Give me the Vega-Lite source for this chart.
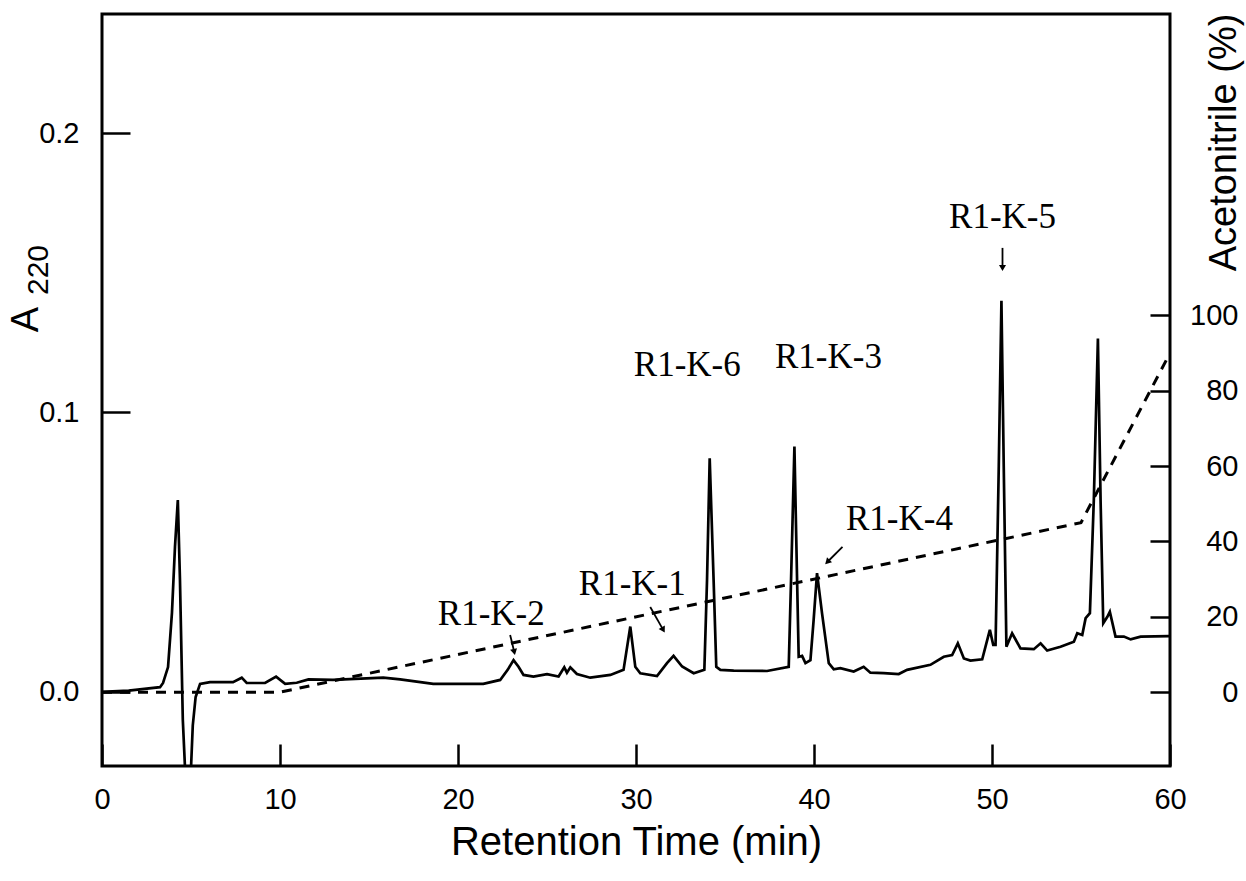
{
  "$schema": "https://vega.github.io/schema/vega-lite/v6.json",
  "width": 1068,
  "height": 752,
  "autosize": "none",
  "padding": {"left": 102, "top": 14, "right": 76, "bottom": 115},
  "background": "white",
  "config": {
    "view": {"stroke": "black", "strokeWidth": 3},
    "axis": {
      "domain": false,
      "grid": false,
      "labelFont": "Liberation Sans",
      "titleFont": "Liberation Sans",
      "labelColor": "black",
      "titleColor": "black",
      "tickColor": "black",
      "tickWidth": 2.5,
      "labelFontSize": 29,
      "titleFontSize": 38,
      "titleFontWeight": "normal"
    }
  },
  "datasets": {
    "trace": [
      {"t": 0, "A": 0}, {"t": 1.5, "A": 0.0005}, {"t": 3.26, "A": 0.0017}, {"t": 3.43, "A": 0.0032},
      {"t": 3.71, "A": 0.0089}, {"t": 3.93, "A": 0.0283}, {"t": 4.1, "A": 0.0519}, {"t": 4.26, "A": 0.0687},
      {"t": 4.38, "A": 0.0401}, {"t": 4.54, "A": -0.01}, {"t": 4.72, "A": -0.035}, {"t": 4.95, "A": -0.035},
      {"t": 5.1, "A": -0.012}, {"t": 5.26, "A": -0.0018}, {"t": 5.51, "A": 0.0029}, {"t": 6.07, "A": 0.0035},
      {"t": 7.36, "A": 0.0035}, {"t": 7.85, "A": 0.0051}, {"t": 8.13, "A": 0.0032}, {"t": 9.16, "A": 0.0032},
      {"t": 9.78, "A": 0.0055}, {"t": 10.29, "A": 0.0029}, {"t": 10.94, "A": 0.0033}, {"t": 11.6, "A": 0.0045},
      {"t": 12.98, "A": 0.0043}, {"t": 15.8, "A": 0.0051}, {"t": 16.75, "A": 0.0045}, {"t": 18.61, "A": 0.0029},
      {"t": 21.42, "A": 0.0029}, {"t": 22.37, "A": 0.0043}, {"t": 22.8, "A": 0.008}, {"t": 23.12, "A": 0.0114},
      {"t": 23.4, "A": 0.009}, {"t": 23.68, "A": 0.0061}, {"t": 24.24, "A": 0.0055}, {"t": 25.0, "A": 0.0064},
      {"t": 25.65, "A": 0.0055}, {"t": 25.97, "A": 0.0088}, {"t": 26.12, "A": 0.0069}, {"t": 26.31, "A": 0.0088},
      {"t": 26.68, "A": 0.0064}, {"t": 27.43, "A": 0.0051}, {"t": 28.56, "A": 0.0061}, {"t": 29.3, "A": 0.0079},
      {"t": 29.68, "A": 0.0234}, {"t": 29.96, "A": 0.009}, {"t": 30.24, "A": 0.0067}, {"t": 31.18, "A": 0.0057},
      {"t": 31.74, "A": 0.0103}, {"t": 32.11, "A": 0.0129}, {"t": 32.59, "A": 0.0091}, {"t": 33.24, "A": 0.0067},
      {"t": 33.84, "A": 0.0079}, {"t": 33.99, "A": 0.04}, {"t": 34.14, "A": 0.0836}, {"t": 34.36, "A": 0.04},
      {"t": 34.51, "A": 0.009}, {"t": 34.74, "A": 0.0079}, {"t": 35.49, "A": 0.0076}, {"t": 37.36, "A": 0.0075},
      {"t": 38.58, "A": 0.009}, {"t": 38.71, "A": 0.04}, {"t": 38.9, "A": 0.0878}, {"t": 39.05, "A": 0.04},
      {"t": 39.14, "A": 0.0126}, {"t": 39.33, "A": 0.0129}, {"t": 39.52, "A": 0.0103}, {"t": 39.8, "A": 0.0114},
      {"t": 39.98, "A": 0.0258}, {"t": 40.17, "A": 0.0425}, {"t": 40.45, "A": 0.0282}, {"t": 40.83, "A": 0.0103},
      {"t": 41.11, "A": 0.0081}, {"t": 41.48, "A": 0.0085}, {"t": 42.23, "A": 0.0073}, {"t": 42.79, "A": 0.009},
      {"t": 43.17, "A": 0.0069}, {"t": 43.92, "A": 0.0067}, {"t": 44.76, "A": 0.0064}, {"t": 45.23, "A": 0.0079},
      {"t": 46.54, "A": 0.0097}, {"t": 47.29, "A": 0.0126}, {"t": 47.76, "A": 0.0132}, {"t": 48.08, "A": 0.0174},
      {"t": 48.42, "A": 0.012}, {"t": 48.79, "A": 0.0112}, {"t": 49.45, "A": 0.0117}, {"t": 49.88, "A": 0.0222},
      {"t": 50.07, "A": 0.0168}, {"t": 50.2, "A": 0.0168}, {"t": 50.38, "A": 0.0806}, {"t": 50.53, "A": 0.14},
      {"t": 50.66, "A": 0.0806}, {"t": 50.81, "A": 0.0162}, {"t": 51.13, "A": 0.021}, {"t": 51.6, "A": 0.0156},
      {"t": 52.35, "A": 0.0153}, {"t": 52.73, "A": 0.0174}, {"t": 53.1, "A": 0.0148}, {"t": 53.85, "A": 0.0162},
      {"t": 54.6, "A": 0.018}, {"t": 54.79, "A": 0.021}, {"t": 55.07, "A": 0.0204}, {"t": 55.26, "A": 0.0264},
      {"t": 55.5, "A": 0.0282}, {"t": 55.72, "A": 0.0687}, {"t": 55.95, "A": 0.1265}, {"t": 56.1, "A": 0.0687},
      {"t": 56.25, "A": 0.0246}, {"t": 56.48, "A": 0.0269}, {"t": 56.62, "A": 0.0287}, {"t": 56.94, "A": 0.0198},
      {"t": 57.41, "A": 0.0198}, {"t": 57.79, "A": 0.0188}, {"t": 58.35, "A": 0.0198}, {"t": 59.94, "A": 0.02},
      {"t": 60, "A": 0.02}
    ],
    "gradient": [
      {"t": 0, "pct": 0}, {"t": 10, "pct": 0}, {"t": 55, "pct": 45}, {"t": 60, "pct": 90}
    ],
    "labels": [
      {"label": "R1-K-5", "t": 50.59, "A": 0.166},
      {"label": "R1-K-6", "t": 32.88, "A": 0.1131},
      {"label": "R1-K-3", "t": 40.81, "A": 0.1159},
      {"label": "R1-K-4", "t": 44.8, "A": 0.058},
      {"label": "R1-K-1", "t": 29.79, "A": 0.0347},
      {"label": "R1-K-2", "t": 21.87, "A": 0.024}
    ],
    "arrows": [
      {"label": "R1-K-5", "t1": 50.59, "a1": 0.1589, "t2": 50.59, "a2": 0.1517},
      {"label": "R1-K-2", "t1": 22.93, "a1": 0.0204, "t2": 23.16, "a2": 0.0143},
      {"label": "R1-K-1", "t1": 30.8, "a1": 0.0304, "t2": 31.53, "a2": 0.0222},
      {"label": "R1-K-4", "t1": 41.6, "a1": 0.0519, "t2": 40.75, "a2": 0.0465}
    ]
  },
  "layer": [
    {
      "layer": [
        {
          "data": {"name": "trace"},
          "mark": {"type": "line", "color": "black", "strokeWidth": 2.7, "clip": true},
          "encoding": {
            "x": {
              "field": "t", "type": "quantitative",
              "scale": {"domain": [0, 60], "nice": false, "zero": false},
              "axis": {
                "values": [0, 10, 20, 30, 40, 50, 60],
                "tickSize": -22,
                "labelPadding": 41,
                "labelFlush": false,
                "title": "Retention Time (min)",
                "titleFontSize": 40,
                "titleY": 56,
                "titleBaseline": "top"
              }
            },
            "y": {
              "field": "A", "type": "quantitative",
              "scale": {"domain": [-0.0265, 0.2426], "nice": false, "zero": false},
              "axis": {
                "values": [0, 0.1, 0.2],
                "format": ".1f",
                "tickSize": -28,
                "labelPadding": 51,
                "labelFlush": false,
                "title": "A",
                "titleAngle": 270,
                "titleX": -76,
                "titleY": 305,
                "titleAlign": "center",
                "titleBaseline": "middle"
              }
            }
          }
        },
        {
          "data": {"values": [{"t": -3.54, "A": 0.151, "text": "220"}]},
          "mark": {"type": "text", "font": "Liberation Sans", "fontSize": 30, "angle": 270, "align": "center", "baseline": "middle", "color": "black"},
          "encoding": {
            "x": {"field": "t", "type": "quantitative"},
            "y": {"field": "A", "type": "quantitative"},
            "text": {"field": "text"}
          }
        },
        {
          "data": {"name": "labels"},
          "mark": {"type": "text", "font": "Liberation Serif", "fontSize": 35, "align": "center", "baseline": "alphabetic", "color": "black"},
          "encoding": {
            "x": {"field": "t", "type": "quantitative"},
            "y": {"field": "A", "type": "quantitative"},
            "text": {"field": "label"}
          }
        },
        {
          "data": {"name": "arrows"},
          "mark": {"type": "rule", "color": "black", "strokeWidth": 1.8},
          "encoding": {
            "x": {"field": "t1", "type": "quantitative"},
            "y": {"field": "a1", "type": "quantitative"},
            "x2": {"field": "t2"},
            "y2": {"field": "a2"}
          }
        },
        {
          "data": {"name": "arrows"},
          "transform": [{"filter": "datum.label === 'R1-K-5'"}],
          "mark": {"type": "point", "shape": "triangle-down", "filled": true, "color": "black", "opacity": 1, "size": 50, "angle": 0},
          "encoding": {
            "x": {"field": "t2", "type": "quantitative"},
            "y": {"field": "a2", "type": "quantitative"}
          }
        },
        {
          "data": {"name": "arrows"},
          "transform": [{"filter": "datum.label === 'R1-K-2'"}],
          "mark": {"type": "point", "shape": "triangle-down", "filled": true, "color": "black", "opacity": 1, "size": 50, "angle": -13},
          "encoding": {
            "x": {"field": "t2", "type": "quantitative"},
            "y": {"field": "a2", "type": "quantitative"}
          }
        },
        {
          "data": {"name": "arrows"},
          "transform": [{"filter": "datum.label === 'R1-K-1'"}],
          "mark": {"type": "point", "shape": "triangle-down", "filled": true, "color": "black", "opacity": 1, "size": 50, "angle": -29},
          "encoding": {
            "x": {"field": "t2", "type": "quantitative"},
            "y": {"field": "a2", "type": "quantitative"}
          }
        },
        {
          "data": {"name": "arrows"},
          "transform": [{"filter": "datum.label === 'R1-K-4'"}],
          "mark": {"type": "point", "shape": "triangle-down", "filled": true, "color": "black", "opacity": 1, "size": 50, "angle": 45},
          "encoding": {
            "x": {"field": "t2", "type": "quantitative"},
            "y": {"field": "a2", "type": "quantitative"}
          }
        }
      ]
    },
    {
      "data": {"name": "gradient"},
      "mark": {"type": "line", "color": "black", "strokeWidth": 3, "strokeDash": [10, 8], "clip": true},
      "encoding": {
        "x": {"field": "t", "type": "quantitative"},
        "y": {
          "field": "pct", "type": "quantitative",
          "scale": {"domain": [-19.6, 180], "nice": false, "zero": false},
          "axis": {
            "orient": "right",
            "values": [0, 20, 40, 60, 80, 100],
            "tickSize": -20,
            "labelPadding": 88,
            "labelAlign": "right",
            "labelFlush": false,
            "title": "Acetonitrile (%)",
            "titleAngle": 270,
            "titleX": 54,
            "titleY": 128,
            "titleAlign": "center",
            "titleBaseline": "middle"
          }
        }
      }
    }
  ],
  "resolve": {"scale": {"y": "independent"}}
}
